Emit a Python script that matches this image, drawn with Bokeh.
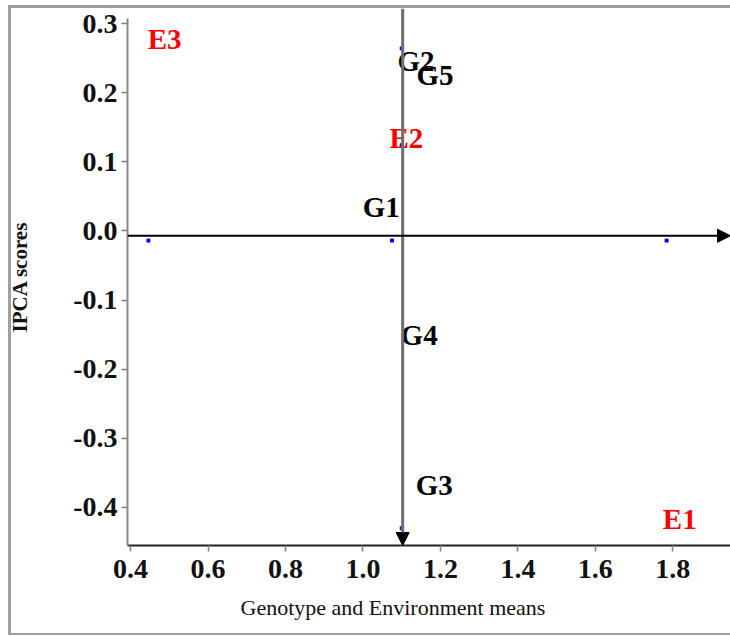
from bokeh.plotting import figure
from bokeh.models import (FixedTicker, PrintfTickFormatter, ColumnDataSource, Arrow,
                          NormalHead, Title)
from bokeh.core.properties import value
from bokeh.embed import file_html
from bokeh.resources import INLINE

# ---- data ----
labels = ["E1", "E2", "E3", "G1", "G2", "G3", "G4", "G5"]
label_x = [1.818, 1.112, 0.488, 1.047, 1.137, 1.184, 1.145, 1.186]
label_y = [-0.416, 0.134, 0.277, 0.034, 0.246, -0.368, -0.151, 0.226]
label_kind = ["E", "E", "E", "G", "G", "G", "G", "G"]

dot_x = [0.446, 1.075, 1.784, 1.100, 1.100, 1.100]
dot_y = [-0.014, -0.014, -0.014, 0.264, 0.124, -0.430]

grand_mean = 1.1025
ipca_origin = -0.007

x_ticks = [0.4, 0.6, 0.8, 1.0, 1.2, 1.4, 1.6, 1.8]
y_ticks = [0.3, 0.2, 0.1, 0.0, -0.1, -0.2, -0.3, -0.4]

X_RANGE = (0.392, 1.949)
Y_RANGE = (-0.455, 0.3217)

FONT = "Liberation Serif"
BORDER = "#a0a0a0"

p = figure(width=730, height=636, x_range=X_RANGE, y_range=Y_RANGE,
           output_backend="svg", toolbar_location=None,
           min_border_left=127, min_border_right=0, min_border_top=8,
           min_border_bottom=91)
p.outline_line_color = None
p.grid.visible = False
p.background_fill_color = "white"
p.border_fill_color = None
p.styles = {
    "background-color": "white",
    "background-image": ", ".join([f"linear-gradient({BORDER}, {BORDER})"] * 3),
    "background-size": "3px 630px, 730px 3px, 730px 2px",
    "background-position": "8px 5px, 8px 5px, 8px 633px",
    "background-repeat": "no-repeat",
}

# axes
p.xaxis.ticker = FixedTicker(ticks=x_ticks)
p.yaxis.ticker = FixedTicker(ticks=y_ticks)
p.xaxis.formatter = PrintfTickFormatter(format="%.1f")
p.yaxis.formatter = PrintfTickFormatter(format="%.1f")
p.yaxis.bounds = (-0.455, 0.307)
for ax in (p.xaxis[0], p.yaxis[0]):
    ax.major_label_text_font = FONT
    ax.major_label_text_font_style = "bold"
    ax.major_label_text_font_size = "28px"
    ax.major_label_text_color = "#111111"
    ax.minor_tick_line_color = None
    ax.major_tick_in = 0
    ax.major_tick_out = 6
    ax.major_tick_line_color = "#808080"
    ax.major_tick_line_width = 1.5
    ax.axis_label_text_font = FONT
    ax.axis_label_text_color = "#111111"

p.xaxis.axis_line_color = "#222222"
p.xaxis.axis_line_width = 2
p.xaxis.major_label_standoff = 8

p.add_layout(Title(text="Genotype and Environment means", align="left", offset=113,
                   standoff=24, text_font=FONT, text_font_style="normal",
                   text_font_size="22px", text_color="#111111"), "below")

p.yaxis.axis_line_color = "#8a8a8a"
p.yaxis.axis_line_width = 2
p.yaxis.major_label_standoff = 4
p.yaxis.axis_label = "IPCA scores"
p.yaxis.axis_label_text_font_style = "bold"
p.yaxis.axis_label_text_font_size = "21px"
p.yaxis.axis_label_standoff = 38

# reference lines with arrows
p.add_layout(Arrow(x_start=grand_mean, y_start=Y_RANGE[1], x_end=grand_mean, y_end=Y_RANGE[0],
                   line_color="#6e6e6e", line_width=3,
                   end=NormalHead(size=13, fill_color="black", line_color="black")))
p.add_layout(Arrow(x_start=X_RANGE[0], y_start=ipca_origin, x_end=X_RANGE[1], y_end=ipca_origin,
                   line_color="black", line_width=2,
                   end=NormalHead(size=13, fill_color="black", line_color="black")))

# dots
p.scatter(dot_x, dot_y, marker="square", size=3, color="blue")

# labels
colors = ["red" if k == "E" else "black" for k in label_kind]
src = ColumnDataSource(dict(x=label_x, y=label_y, t=labels, c=colors))
p.text(x="x", y="y", text="t", text_color="c", source=src,
       text_font=value(FONT), text_font_style="bold", text_font_size="29px",
       text_align="center", text_baseline="middle")

open("out.html", "w").write(file_html(p, INLINE))
